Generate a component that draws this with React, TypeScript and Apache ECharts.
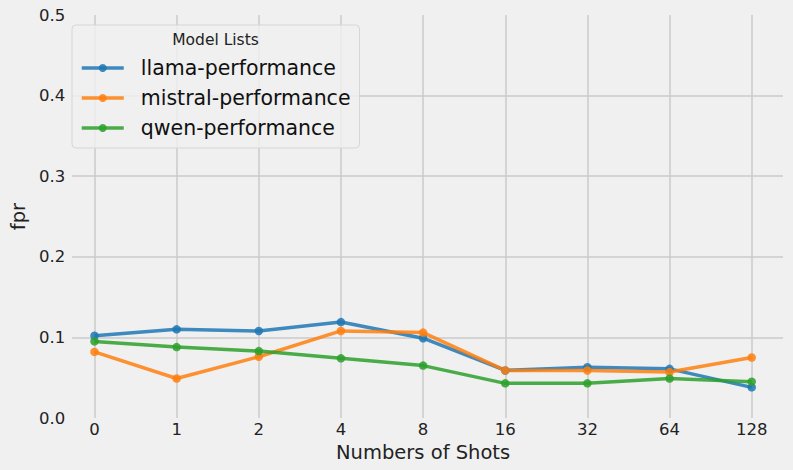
import React, { useEffect, useRef } from "react";
import * as echarts from "echarts";

const shots = ["0", "1", "2", "4", "8", "16", "32", "64", "128"];
const llama = [0.102, 0.110, 0.108, 0.119, 0.099, 0.059, 0.063, 0.061, 0.038];
const mistral = [0.082, 0.049, 0.076, 0.108, 0.106, 0.059, 0.059, 0.057, 0.075];
const qwen = [0.095, 0.088, 0.083, 0.074, 0.065, 0.043, 0.043, 0.049, 0.045];
const seriesNames = ["llama-performance", "mistral-performance", "qwen-performance"];
const seriesColors = ["#1f77b4", "#ff7f0e", "#2ca02c"];

const FONT = "DejaVu Sans";
const GRID = "#cbcbcb";

export default function App() {
  const ref = useRef<HTMLDivElement>(null);
  useEffect(() => {
    document.body.style.margin = "0";
    document.body.style.background = "#f0f0f0";
    const chart = echarts.init(ref.current!, null, { renderer: "svg" });
    const all = [llama, mistral, qwen];
    chart.setOption({
      animation: false,
      backgroundColor: "#f0f0f0",
      textStyle: { fontFamily: FONT },
      grid: [
        { left: 63, right: 10, top: 15, bottom: 52 },
        { left: 94.5, right: 41.3, top: 15, bottom: 52 },
      ],
      xAxis: [
        { gridIndex: 0, type: "value", min: 0, max: 1, show: false },
        {
          gridIndex: 1,
          type: "category",
          data: shots,
          boundaryGap: false,
          name: "Numbers of Shots",
          nameLocation: "middle",
          nameGap: 22,
          nameTextStyle: { fontSize: 19.5, color: "#222", fontFamily: FONT },
          axisLine: { show: false },
          axisTick: { show: false },
          axisLabel: {
            margin: 3,
            fontSize: 16.5,
            color: "#222",
            fontFamily: FONT,
            interval: 0,
          },
          splitLine: { show: true, interval: 0, lineStyle: { color: GRID, width: 1.5 } },
        },
      ],
      yAxis: [
        {
          gridIndex: 0,
          type: "value",
          min: 0,
          max: 0.5,
          interval: 0.1,
          name: "fpr",
          nameLocation: "middle",
          nameGap: 38,
          nameTextStyle: { fontSize: 19.5, color: "#222", fontFamily: FONT },
          axisLine: { show: false },
          axisTick: { show: false },
          axisLabel: {
            margin: 7,
            fontSize: 16.5,
            color: "#222",
            fontFamily: FONT,
            formatter: (v: number) => v.toFixed(1),
          },
          splitLine: {
            show: true,
            lineStyle: {
              color: ["rgba(0,0,0,0)", GRID, GRID, GRID, GRID, "rgba(0,0,0,0)"],
              width: 1.5,
            },
          },
        },
        {
          gridIndex: 1,
          type: "value",
          min: 0,
          max: 0.5,
          interval: 0.1,
          show: false,
        },
      ],
      legend: {
        orient: "vertical",
        left: 72,
        top: 25,
        padding: [31, 9, 8, 8],
        itemWidth: 42,
        itemHeight: 10,
        itemGap: 6,
        backgroundColor: "rgba(240,240,240,0.8)",
        borderColor: "#d6d6d6",
        borderWidth: 1,
        borderRadius: 4,
        lineStyle: { width: 3.5 },
        textStyle: {
          fontSize: 20.5,
          color: "#111",
          fontFamily: FONT,
          lineHeight: 24,
          padding: [0, 0, 0, 12],
        },
        data: seriesNames,
      },
      graphic: [
        {
          type: "text",
          x: 215.5,
          y: 40,
          z: 100,
          style: {
            text: "Model Lists",
            fontSize: 15.5,
            fontFamily: FONT,
            fill: "#222",
            textAlign: "center",
            textVerticalAlign: "middle",
          },
        },
      ],
      series: all.map((arr, s) => ({
        name: seriesNames[s],
        type: "line",
        xAxisIndex: 1,
        yAxisIndex: 1,
        data: arr,
        symbol: "circle",
        symbolSize: 8.5,
        lineStyle: { width: 3.5, opacity: 0.85 },
        itemStyle: { color: seriesColors[s], opacity: 0.85 },
        color: seriesColors[s],
      })),
    });
    return () => chart.dispose();
  }, []);
  return <div ref={ref} style={{ width: 793, height: 470 }} />;
}
